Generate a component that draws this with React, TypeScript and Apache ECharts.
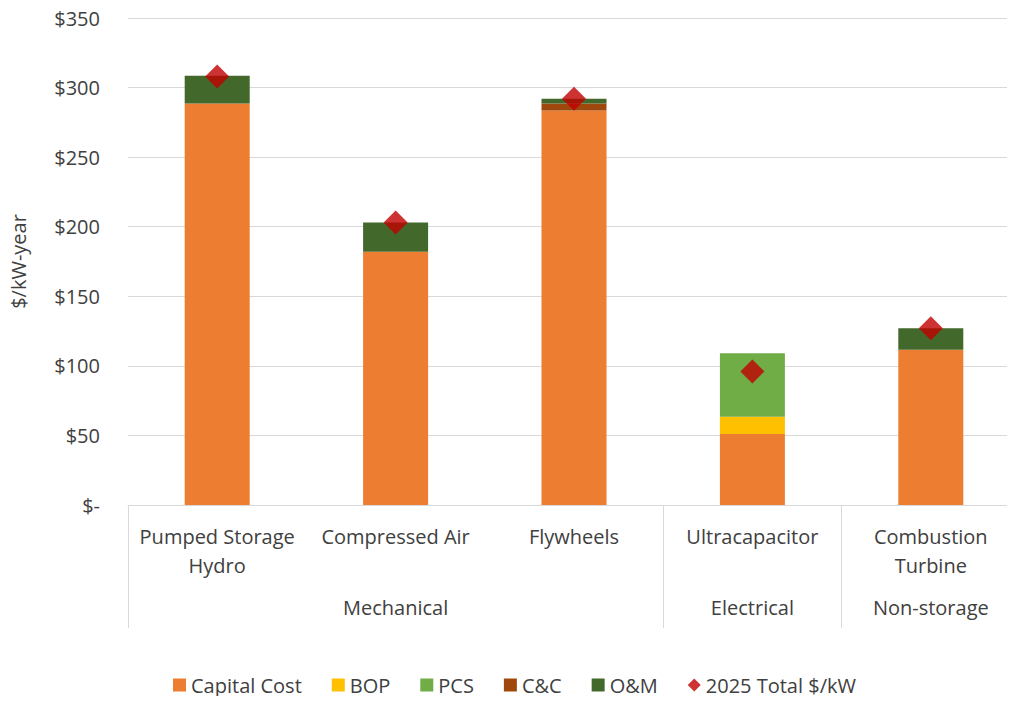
import React, { useEffect, useRef } from "react";
import * as echarts from "echarts";

const categories = ["Pumped Storage\nHydro", "Compressed Air", "Flywheels", "Ultracapacitor", "Combustion\nTurbine"];
const groups = ["", "Mechanical", "", "Electrical", "Non-storage"];
const capitalCost = [288.5, 182, 283.5, 51, 111.5];
const bop = [0, 0, 0, 12.5, 0];
const pcs = [0, 0, 0, 45.5, 0];
const cc = [0, 0, 5, 0, 0];
const om = [20, 21, 3.5, 0, 15.5];
const total2025 = [308, 203, 292, 96, 127];
const yTicks = { min: 0, max: 350, interval: 50 };

const FONT = "'Open Sans', Lato, sans-serif";
const TXT = "#404040";
const FS = 20;

export default function App() {
  const ref = useRef<HTMLDivElement>(null);
  useEffect(() => {
    if (!ref.current) return;
    const chart = echarts.init(ref.current, null, { renderer: "svg" });
    const bar = (name: string, data: number[], color: string) => ({
      name,
      type: "bar",
      stack: "cost",
      data,
      barWidth: 65,
      itemStyle: { color },
      xAxisIndex: 0,
    });
    chart.setOption({
      animation: false,
      textStyle: { fontFamily: FONT },
      grid: { left: 126, right: 0, top: 18, bottom: 199 },
      legend: {
        top: 670,
        left: 168,
        itemWidth: 13,
        itemHeight: 13,
        itemGap: 30,
        textStyle: { fontSize: FS, color: TXT, fontFamily: FONT },
        data: [
          { name: "Capital Cost", icon: "rect" },
          { name: "BOP", icon: "rect" },
          { name: "PCS", icon: "rect" },
          { name: "C&C", icon: "rect" },
          { name: "O&M", icon: "rect" },
          { name: "2025 Total $/kW", icon: "diamond" },
        ],
      },
      xAxis: [
        {
          type: "category",
          data: categories,
          axisLine: { lineStyle: { color: "#d9d9d9" } },
          axisTick: {
            show: true,
            length: 123,
            lineStyle: { color: "#d9d9d9" },
            interval: (index: number) => index === 0 || index === 3 || index === 4,
          },
          axisLabel: { color: TXT, fontSize: FS, margin: 17, lineHeight: 29, interval: 0, fontFamily: FONT },
        },
        {
          type: "category",
          data: groups,
          position: "bottom",
          axisLine: { show: false },
          axisTick: { show: false },
          axisLabel: { color: TXT, fontSize: FS, margin: 92, interval: 0, fontFamily: FONT },
        },
      ],
      yAxis: {
        type: "value",
        min: yTicks.min,
        max: yTicks.max,
        interval: yTicks.interval,
        name: "$/kW-year",
        nameLocation: "middle",
        nameGap: 100,
        nameTextStyle: { color: TXT, fontSize: FS, fontFamily: FONT },
        axisLine: { show: false },
        axisTick: { show: false },
        splitLine: { lineStyle: { color: "#d9d9d9" } },
        axisLabel: {
          color: TXT,
          fontSize: FS,
          margin: 28,
          fontFamily: FONT,
          formatter: (v: number) => (v === 0 ? "$-" : "$" + v),
        },
      },
      series: [
        bar("Capital Cost", capitalCost, "#ED7D31"),
        bar("BOP", bop, "#FFC000"),
        bar("PCS", pcs, "#70AD47"),
        bar("C&C", cc, "#9E480E"),
        bar("O&M", om, "#43682B"),
        {
          name: "2025 Total $/kW",
          type: "scatter",
          data: total2025,
          symbol: "diamond",
          symbolSize: 24,
          itemStyle: { color: "#C00000" },
          z: 5,
        },
      ],
    });
    return () => chart.dispose();
  }, []);
  return (
    <div style={{ width: 1015, height: 704, margin: -8, overflow: "hidden", position: "relative" }}>
      <div ref={ref} style={{ width: 1020, height: 704 }} />
    </div>
  );
}
